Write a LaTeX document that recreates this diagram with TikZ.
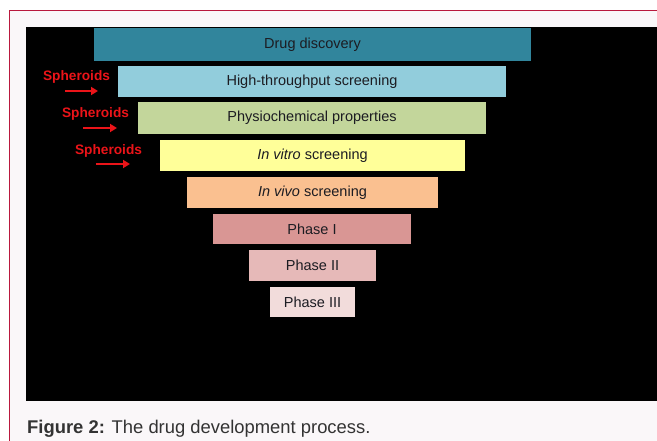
\documentclass[tikz,border=0pt]{standalone}
\usepackage{fontspec}
\setmainfont{Liberation Sans}
\usepackage{tikz}
\usetikzlibrary{arrows.meta}
\definecolor{framered}{RGB}{185,25,62}
\definecolor{panelgray}{RGB}{250,247,249}
\definecolor{drugteal}{RGB}{49,133,156}
\definecolor{htsblue}{RGB}{146,205,220}
\definecolor{physgreen}{RGB}{195,214,155}
\definecolor{vitroyellow}{RGB}{255,255,153}
\definecolor{vivopeach}{RGB}{250,192,144}
\definecolor{phaseone}{RGB}{217,150,148}
\definecolor{phasetwo}{RGB}{230,185,184}
\definecolor{phasethree}{RGB}{242,220,219}
\definecolor{stagetext}{RGB}{28,28,34}
\definecolor{sphred}{RGB}{235,20,25}
\definecolor{captext}{RGB}{51,51,51}

\begin{document}
\begin{tikzpicture}[x=1pt, y=-1pt,
  stage/.style={inner sep=0pt, minimum height=31pt, text=stagetext, font=\fontsize{14.5}{17}\selectfont},
  sph/.style={inner sep=0pt, text=sphred, font=\bfseries\fontsize{13.7}{16}\selectfont},
  spharrow/.style={draw=sphred, line width=2.2pt, -{Triangle[length=7pt,width=8pt]}}]
\useasboundingbox (0,0) rectangle (657,441);
\fill[white] (0,0) rectangle (657,441);
\fill[panelgray] (9,11) rectangle (657,441);
\draw[framered, line width=1pt] (657,11) -- (9,11) -- (9,441);
\fill[black] (26,27) rectangle (657,401);

% funnel of stages
\node[stage, fill=drugteal, minimum width=437pt, minimum height=33pt] (discovery) at (312.5,44.5) {Drug discovery};
\node[stage, fill=htsblue, minimum width=388pt] (hts) at (312,81.5) {High-throughput screening};
\node[stage, fill=physgreen, minimum width=348pt, minimum height=32pt] (physio) at (312,118) {Physiochemical properties};
\node[stage, fill=vitroyellow, minimum width=305pt] (vitro) at (312.5,155.5) {\textit{In vitro} screening};
\node[stage, fill=vivopeach, minimum width=251pt] (vivo) at (312.5,192.5) {\textit{In vivo} screening};
\node[stage, fill=phaseone, minimum width=198pt, minimum height=30pt] (ph1) at (312,229) {Phase I};
\node[stage, fill=phasetwo, minimum width=127pt] (ph2) at (312.5,265.5) {Phase II};
\node[stage, fill=phasethree, minimum width=85pt, minimum height=30pt] (ph3) at (312.5,302.5) {Phase III};

% spheroid markers
\foreach \i/\tx/\ty/\ax/\bx/\ay in {1/76.5/77/65/98/91, 2/95.5/114/83/117/128, 3/108.5/151/96/130/164} {
    \node[sph] (sph\i) at (\tx,\ty) {Spheroids};
    \coordinate (tail\i) at (\ax,\ay);
    \coordinate (tip\i) at (\bx,\ay);
    \draw[spharrow] (tail\i) -- (tip\i);
}

\node[anchor=base west, inner sep=0pt, text=captext, font=\fontsize{18.4}{21}\selectfont] (caption) at (27,433) {\textbf{Figure 2:} The drug development process.};
\end{tikzpicture}
\end{document}
